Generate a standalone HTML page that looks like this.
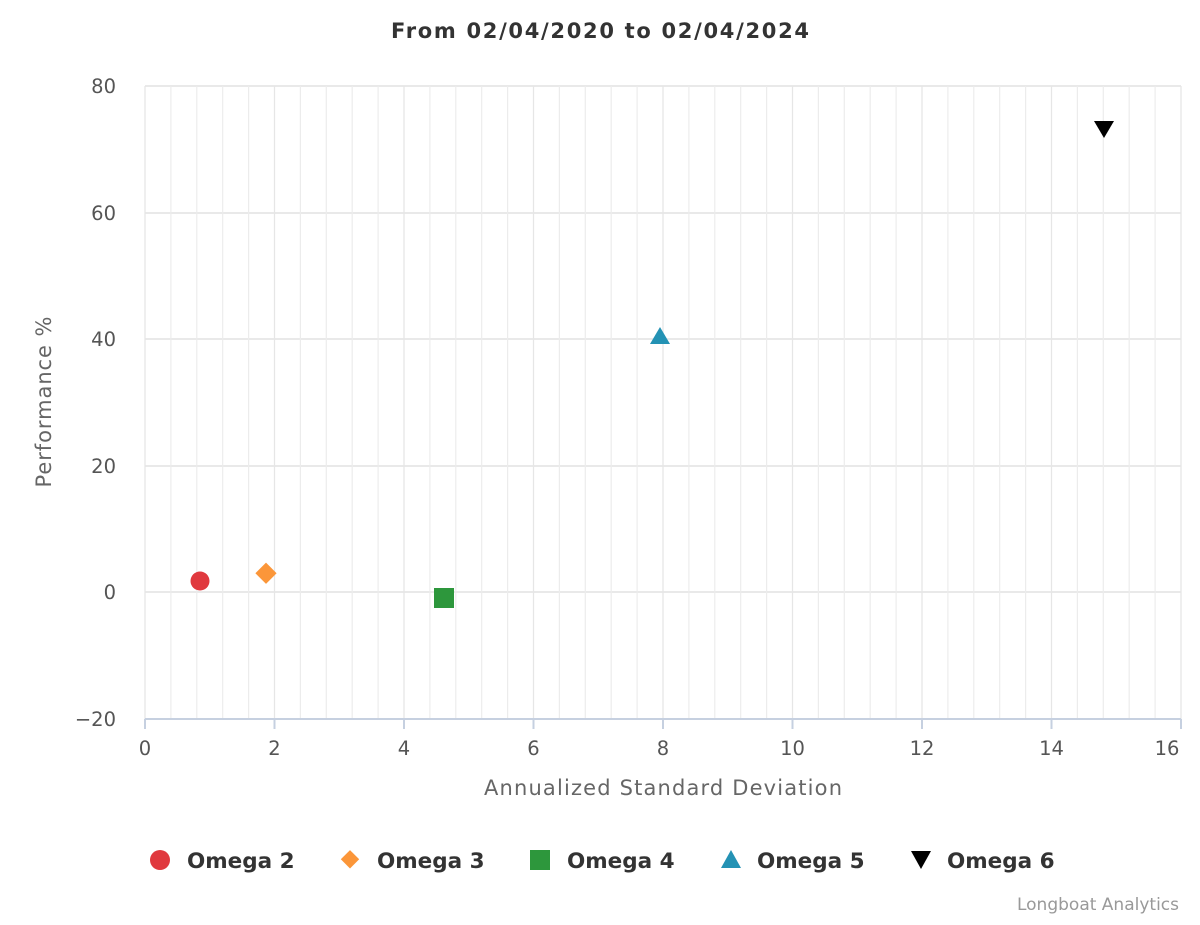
<!DOCTYPE html>
<html><head><meta charset="utf-8"><style>
body{margin:0;background:#fff;}
svg text{font-family:"DejaVu Sans","Liberation Sans",sans-serif;}
</style></head><body>
<svg width="1200" height="920" xmlns="http://www.w3.org/2000/svg">
<rect width="1200" height="920" fill="#fff"/>
<text x="600" y="38" text-anchor="middle" font-size="21" font-weight="bold" fill="#333" textLength="418" lengthAdjust="spacing">From 02/04/2020 to 02/04/2024</text>
<g stroke="#e2e2e2" stroke-width="1.6">
<line x1="145" y1="86" x2="1181" y2="86"/>
<line x1="145" y1="213" x2="1181" y2="213"/>
<line x1="145" y1="339" x2="1181" y2="339"/>
<line x1="145" y1="466" x2="1181" y2="466"/>
<line x1="145" y1="592" x2="1181" y2="592"/>
</g>
<g stroke="#ececec" stroke-width="1.2">
<line x1="170.9" y1="86" x2="170.9" y2="719"/><line x1="196.8" y1="86" x2="196.8" y2="719"/><line x1="222.7" y1="86" x2="222.7" y2="719"/><line x1="248.6" y1="86" x2="248.6" y2="719"/>
<line x1="300.4" y1="86" x2="300.4" y2="719"/><line x1="326.3" y1="86" x2="326.3" y2="719"/><line x1="352.2" y1="86" x2="352.2" y2="719"/><line x1="378.1" y1="86" x2="378.1" y2="719"/>
<line x1="429.9" y1="86" x2="429.9" y2="719"/><line x1="455.8" y1="86" x2="455.8" y2="719"/><line x1="481.7" y1="86" x2="481.7" y2="719"/><line x1="507.6" y1="86" x2="507.6" y2="719"/>
<line x1="559.4" y1="86" x2="559.4" y2="719"/><line x1="585.3" y1="86" x2="585.3" y2="719"/><line x1="611.2" y1="86" x2="611.2" y2="719"/><line x1="637.1" y1="86" x2="637.1" y2="719"/>
<line x1="688.9" y1="86" x2="688.9" y2="719"/><line x1="714.8" y1="86" x2="714.8" y2="719"/><line x1="740.7" y1="86" x2="740.7" y2="719"/><line x1="766.6" y1="86" x2="766.6" y2="719"/>
<line x1="818.4" y1="86" x2="818.4" y2="719"/><line x1="844.3" y1="86" x2="844.3" y2="719"/><line x1="870.2" y1="86" x2="870.2" y2="719"/><line x1="896.1" y1="86" x2="896.1" y2="719"/>
<line x1="947.9" y1="86" x2="947.9" y2="719"/><line x1="973.8" y1="86" x2="973.8" y2="719"/><line x1="999.7" y1="86" x2="999.7" y2="719"/><line x1="1025.6" y1="86" x2="1025.6" y2="719"/>
<line x1="1077.4" y1="86" x2="1077.4" y2="719"/><line x1="1103.3" y1="86" x2="1103.3" y2="719"/><line x1="1129.2" y1="86" x2="1129.2" y2="719"/><line x1="1155.1" y1="86" x2="1155.1" y2="719"/>
</g>
<g stroke="#e6e6e6" stroke-width="1.3">
<line x1="145" y1="86" x2="145" y2="719"/><line x1="274.5" y1="86" x2="274.5" y2="719"/><line x1="404" y1="86" x2="404" y2="719"/><line x1="533.5" y1="86" x2="533.5" y2="719"/>
<line x1="663" y1="86" x2="663" y2="719"/><line x1="792.5" y1="86" x2="792.5" y2="719"/><line x1="922" y1="86" x2="922" y2="719"/><line x1="1051.5" y1="86" x2="1051.5" y2="719"/><line x1="1181" y1="86" x2="1181" y2="719"/>
</g>
<line x1="145" y1="719" x2="1181" y2="719" stroke="#c6d0e0" stroke-width="2"/>
<g stroke="#c6d0e0" stroke-width="2">
<line x1="145" y1="719" x2="145" y2="729"/><line x1="274.5" y1="719" x2="274.5" y2="729"/>
<line x1="404" y1="719" x2="404" y2="729"/><line x1="533.5" y1="719" x2="533.5" y2="729"/>
<line x1="663" y1="719" x2="663" y2="729"/><line x1="792.5" y1="719" x2="792.5" y2="729"/>
<line x1="922" y1="719" x2="922" y2="729"/><line x1="1051.5" y1="719" x2="1051.5" y2="729"/>
<line x1="1181" y1="719" x2="1181" y2="729"/>
</g>
<g font-size="19.5" fill="#555" text-anchor="middle">
<text x="145" y="755">0</text><text x="274.5" y="755">2</text><text x="404" y="755">4</text>
<text x="533.5" y="755">6</text><text x="663" y="755">8</text><text x="792.5" y="755">10</text>
<text x="922" y="755">12</text><text x="1051.5" y="755">14</text><text x="1167" y="755">16</text>
</g>
<g font-size="19.5" fill="#555" text-anchor="end">
<text x="116" y="93">80</text><text x="116" y="220">60</text><text x="116" y="346">40</text>
<text x="116" y="473">20</text><text x="116" y="599">0</text><text x="116" y="726">−20</text>
</g>
<text x="663" y="795" text-anchor="middle" font-size="21" fill="#666" textLength="358" lengthAdjust="spacing">Annualized Standard Deviation</text>
<text transform="translate(51,402) rotate(-90)" text-anchor="middle" font-size="21" fill="#666" textLength="171" lengthAdjust="spacing">Performance %</text>
<circle cx="200" cy="581" r="9.5" fill="#e0393e"/>
<rect x="258" y="566" width="15" height="15" fill="#fb9639" transform="rotate(45 266 574)"/>
<rect x="434" y="588" width="20" height="20" fill="#2d973c"/>
<polygon points="660,327 670,344 650,344" fill="#2492b4"/>
<polygon points="1094,121 1114,121 1104,138" fill="#000"/>
<circle cx="160" cy="860" r="10" fill="#e0393e"/>
<text x="187" y="868" font-size="21.5" font-weight="bold" fill="#333">Omega 2</text>
<rect x="343" y="853" width="13" height="13" fill="#fb9639" transform="rotate(45 350 860)"/>
<text x="377" y="868" font-size="21.5" font-weight="bold" fill="#333">Omega 3</text>
<rect x="530" y="850" width="20" height="20" fill="#2d973c"/>
<text x="567" y="868" font-size="21.5" font-weight="bold" fill="#333">Omega 4</text>
<polygon points="731,850 741,868 721,868" fill="#2492b4"/>
<text x="757" y="868" font-size="21.5" font-weight="bold" fill="#333">Omega 5</text>
<polygon points="911,851 931,851 921,869" fill="#000"/>
<text x="947" y="868" font-size="21.5" font-weight="bold" fill="#333">Omega 6</text>
<text x="1179" y="910" text-anchor="end" font-size="17" fill="#999">Longboat Analytics</text>
</svg>
</body></html>
